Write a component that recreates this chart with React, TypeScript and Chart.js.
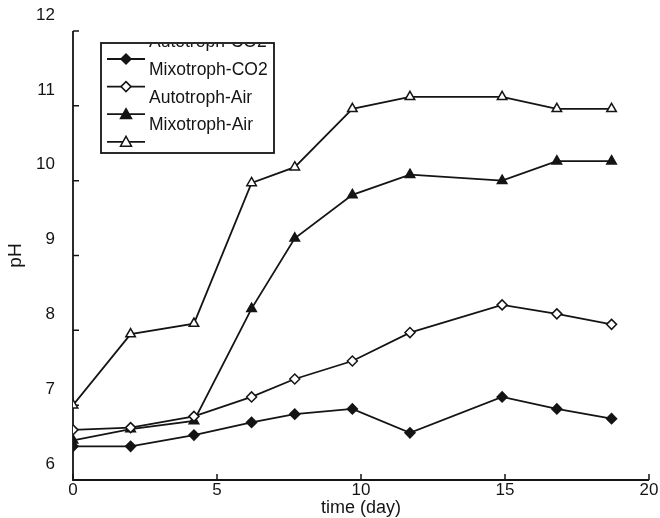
import React, { useEffect, useRef } from "react";
import { Chart, registerables } from "chart.js";

Chart.register(...registerables);

// ---- data ----
const days = [0, 2, 4.2, 6.2, 7.7, 9.7, 11.7, 14.9, 16.8, 18.7];
const autotrophCO2 = [6.45, 6.45, 6.6, 6.77, 6.88, 6.95, 6.63, 7.11, 6.95, 6.82];
const mixotrophCO2 = [6.67, 6.7, 6.85, 7.11, 7.35, 7.59, 7.97, 8.34, 8.22, 8.08];
const autotrophAir = [6.53, 6.68, 6.79, 8.29, 9.23, 9.81, 10.08, 10.0, 10.26, 10.26];
const mixotrophAir = [7.0, 7.95, 8.09, 9.97, 10.18, 10.96, 11.12, 11.12, 10.96, 10.96];
const seriesLabels = ["Autotroph-CO2", "Mixotroph-CO2", "Autotroph-Air", "Mixotroph-Air"];
const xTicks = [0, 5, 10, 15, 20];
const yTicks = [6, 7, 8, 9, 10, 11, 12];
const xTitle = "time (day)";
const yTitle = "pH";

const FONT = "'Liberation Sans', Arial, sans-serif";
const INK = "#141414";

const axesPlugin = {
  id: "scanAxes",
  beforeDatasetsDraw(chart: any) {
    const { ctx, scales } = chart;
    const x = scales.x;
    const y = scales.y;
    const x0 = x.getPixelForValue(0);
    const y0 = y.getPixelForValue(yTicks[0]);
    ctx.save();
    ctx.strokeStyle = INK;
    ctx.lineWidth = 1.8;
    ctx.beginPath();
    ctx.moveTo(x0, y.getPixelForValue(yTicks[yTicks.length - 1]));
    ctx.lineTo(x0, y0);
    ctx.lineTo(x.getPixelForValue(xTicks[xTicks.length - 1]), y0);
    ctx.stroke();
    ctx.lineWidth = 1.5;
    ctx.beginPath();
    yTicks.forEach((v) => {
      const py = y.getPixelForValue(v);
      ctx.moveTo(x0, py);
      ctx.lineTo(x0 + 6, py);
    });
    xTicks.forEach((v) => {
      const px = x.getPixelForValue(v);
      ctx.moveTo(px, y0);
      ctx.lineTo(px, y0 - 6);
    });
    ctx.stroke();
    ctx.restore();
  },
};

const legendPlugin = {
  id: "scanLegend",
  afterDraw(chart: any) {
    const { ctx } = chart;
    const bx = 101, by = 43, bw = 173, bh = 110;
    const rowPitch = 27.6;
    ctx.save();
    ctx.fillStyle = "#ffffff";
    ctx.fillRect(bx, by, bw, bh);
    ctx.strokeStyle = INK;
    ctx.lineWidth = 1.8;
    ctx.strokeRect(bx, by, bw, bh);
    ctx.beginPath();
    ctx.rect(bx + 1, by + 1, bw - 2, bh - 2);
    ctx.clip();
    chart.data.datasets.forEach((ds: any, i: number) => {
      const my = by + 16 + i * rowPitch;
      ctx.strokeStyle = INK;
      ctx.lineWidth = 1.8;
      ctx.beginPath();
      ctx.moveTo(bx + 6, my);
      ctx.lineTo(bx + 44, my);
      ctx.stroke();
      ctx.fillStyle = ds.pointBackgroundColor;
      ctx.strokeStyle = INK;
      ctx.lineWidth = 1.5;
      const cx = bx + 25;
      const r = ds.pointRadius;
      ctx.beginPath();
      if (ds.pointStyle === "triangle") {
        ctx.moveTo(cx, my - r);
        ctx.lineTo(cx + r, my + r * 0.8);
        ctx.lineTo(cx - r, my + r * 0.8);
      } else {
        ctx.moveTo(cx, my - r);
        ctx.lineTo(cx + r, my);
        ctx.lineTo(cx, my + r);
        ctx.lineTo(cx - r, my);
      }
      ctx.closePath();
      ctx.fill();
      ctx.stroke();
      ctx.fillStyle = INK;
      ctx.font = `17.5px ${FONT}`;
      ctx.textBaseline = "middle";
      ctx.textAlign = "left";
      ctx.fillText(ds.label, bx + 48, my - 16.5);
    });
    ctx.restore();
  },
};

export default function App() {
  const canvasRef = useRef<HTMLCanvasElement | null>(null);

  useEffect(() => {
    document.body.style.margin = "0";
    const canvas = canvasRef.current;
    if (!canvas) return;
    const mk = (vals: number[]) => days.map((d, i) => ({ x: d, y: vals[i] }));
    const base = {
      borderColor: INK,
      borderWidth: 1.8,
      pointBorderColor: INK,
      pointBorderWidth: 1.5,
      tension: 0,
      fill: false,
    };
    const chart = new Chart(canvas, {
      type: "line",
      data: {
        datasets: [
          { ...base, label: seriesLabels[0], data: mk(autotrophCO2), pointStyle: "rectRot", pointRadius: 5, pointBackgroundColor: INK },
          { ...base, label: seriesLabels[1], data: mk(mixotrophCO2), pointStyle: "rectRot", pointRadius: 5, pointBackgroundColor: "#ffffff" },
          { ...base, label: seriesLabels[2], data: mk(autotrophAir), pointStyle: "triangle", pointRadius: 5.5, pointBackgroundColor: INK },
          { ...base, label: seriesLabels[3], data: mk(mixotrophAir), pointStyle: "triangle", pointRadius: 5.5, pointBackgroundColor: "#ffffff" },
        ],
      },
      options: {
        animation: false,
        responsive: false,
        devicePixelRatio: 1,
        layout: { padding: { top: 31, right: 11, left: 0, bottom: 0 } },
        plugins: { legend: { display: false }, tooltip: { enabled: false } },
        scales: {
          x: {
            type: "linear",
            min: 0,
            max: 20,
            afterBuildTicks: (s: any) => { s.ticks = xTicks.map((v) => ({ value: v })); },
            afterFit: (s: any) => { s.height = 38; },
            grid: { display: false, drawTicks: false },
            border: { display: false },
            ticks: { color: INK, font: { family: FONT, size: 17 }, padding: 0, maxRotation: 0 },
            title: { display: true, text: xTitle, color: INK, font: { family: FONT, size: 18, lineHeight: 1.1 }, padding: { top: 0, bottom: 0 } },
          },
          y: {
            type: "linear",
            min: 6,
            max: 12,
            afterBuildTicks: (s: any) => { s.ticks = yTicks.map((v) => ({ value: v })); },
            afterFit: (s: any) => { s.width = 73; },
            grid: { display: false, drawTicks: false },
            border: { display: false },
            ticks: { color: INK, font: { family: FONT, size: 17 }, padding: 18, labelOffset: -16 },
            title: { display: true, text: yTitle, color: INK, font: { family: FONT, size: 19 }, padding: { top: 4, bottom: 0 } },
          },
        },
      },
      plugins: [axesPlugin, legendPlugin],
    } as any);
    return () => chart.destroy();
  }, []);

  return (
    <div style={{ width: 660, height: 518, background: "#fff" }}>
      <canvas ref={canvasRef} width={660} height={518} style={{ display: "block" }} />
    </div>
  );
}
